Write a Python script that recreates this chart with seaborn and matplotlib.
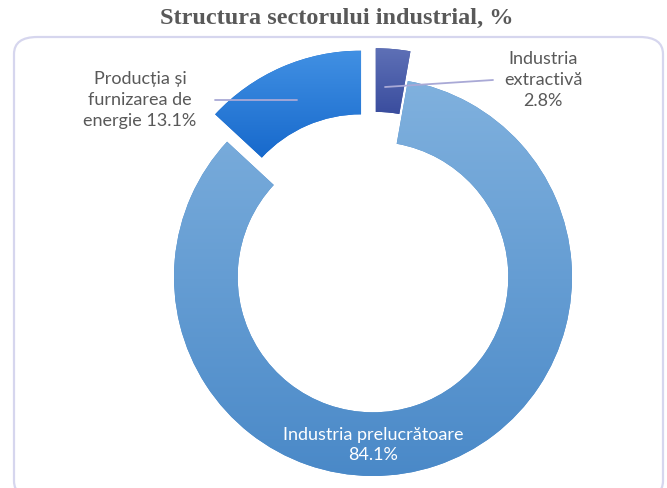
import numpy as np
import matplotlib.pyplot as plt
import matplotlib.colors as mcolors
from matplotlib.patches import FancyBboxPatch
import seaborn as sns

sns.set_theme(style="white")
plt.rcParams['font.family'] = ['Lato', 'DejaVu Sans']

# data
sectors = ['Industria extractivă', 'Industria prelucrătoare', 'Producția și furnizarea de energie']
shares = [2.8, 84.1, 13.1]
labels = ['Industria\nextractivă\n2.8%', 'Industria prelucrătoare\n84.1%', 'Producția și\nfurnizarea de\nenergie 13.1%']
explode = [0.15, 0.0, 0.15]
# gradient top / bottom colours for each wedge
grad = [('#5e70b6', '#3a4d9e'), ('#80b1de', '#4a89c8'), ('#4190e3', '#1769cc')]

W, H = 667, 488
fig = plt.figure(figsize=(W / 100, H / 100), dpi=100)

# rounded frame
frame = FancyBboxPatch((14 / W, -10 / H), (663 - 14) / W, (H - 37 + 10) / H,
                       boxstyle="round,pad=0,rounding_size=0.035",
                       transform=fig.transFigure, fill=False,
                       edgecolor='#d6d6ee', linewidth=1.6)
fig.patches.append(frame)

fig.text(337 / W, 1 - 18 / H, 'Structura sectorului industrial, %',
         ha='center', va='center', fontsize=17.5, fontweight='bold',
         family=['Liberation Serif', 'DejaVu Serif'], color='#595959')

R = 199
cx, cy = 373, 277
half = 1.3 * R
ax = fig.add_axes([(cx - half) / W, (H - cy - half) / H, 2 * half / W, 2 * half / H])
ax.set_xlim(-1.3, 1.3)
ax.set_ylim(-1.3, 1.3)
ax.set_aspect('equal')
ax.axis('off')

wedges, _ = ax.pie(shares, explode=explode, startangle=90, counterclock=False,
                   radius=1.0, wedgeprops=dict(width=0.32, linewidth=0),
                   colors=[g[1] for g in grad])

# vertical gradient fills clipped to each wedge
for w, (top, bot) in zip(wedges, grad):
    cmap = mcolors.LinearSegmentedColormap.from_list('g', [bot, top])
    ext = w.get_path().get_extents(w.get_transform() - ax.transData)
    im = ax.imshow(np.linspace(0, 1, 256).reshape(-1, 1), cmap=cmap, origin='lower',
                   extent=[ext.x0, ext.x1, ext.y0, ext.y1], aspect='auto', zorder=2)
    im.set_clip_path(w)
ax.set_xlim(-1.3, 1.3)
ax.set_ylim(-1.3, 1.3)

def px(x, y):
    return ((x - cx) / R, (cy - y) / R)

# leader lines
line_col = '#a9a9d6'
ax.plot(*zip(px(385, 87), px(493, 80)), color=line_col, lw=1.3, zorder=5)
ax.plot(*zip(px(215, 100), px(297, 100)), color=line_col, lw=1.3, zorder=5)

ax.text(*px(543, 80), labels[0], ha='center', va='center', fontsize=13,
        color='#595959', linespacing=1.35, zorder=6)
ax.text(*px(140, 100), labels[2], ha='center', va='center', fontsize=13,
        color='#595959', linespacing=1.35, zorder=6)
ax.text(*px(373, 445), labels[1], ha='center', va='center', fontsize=13,
        color='white', linespacing=1.35, zorder=6)

fig.savefig('out.png', dpi=100)
